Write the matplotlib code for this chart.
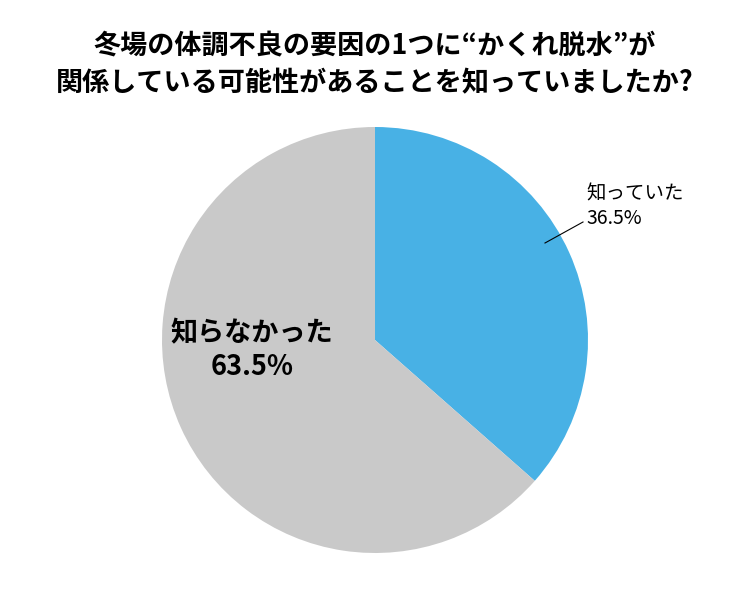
import matplotlib
matplotlib.use("Agg")
import matplotlib.pyplot as plt

plt.rcParams['font.family'] = ['Noto Sans CJK JP', 'DejaVu Sans']

labels = ["知っていた", "知らなかった"]
shares = [36.5, 63.5]
colors = ["#48B1E5", "#C9C9C9"]

W, H = 750, 600
fig = plt.figure(figsize=(7.5, 6), dpi=100)

def fx(px):
    return px / W

def fy(py):
    return 1 - py / H

fig.text(0.5, fy(45), "冬場の体調不良の要因の1つに“かくれ脱水”が",
         ha="center", va="center", fontsize=19.5, fontweight="bold")
fig.text(0.5, fy(83), "関係している可能性があることを知っていましたか?",
         ha="center", va="center", fontsize=19.5, fontweight="bold")

r = 213
cx, cy = 375, 340
ax = fig.add_axes([fx(cx - r), fy(cy + r), 2 * r / W, 2 * r / H])
ax.pie(shares, colors=colors, startangle=90, counterclock=False,
       wedgeprops=dict(linewidth=0))
ax.set_xlim(-1, 1)
ax.set_ylim(-1, 1)
ax.set_aspect("auto")

fig.text(fx(252), fy(350), f"{labels[1]}\n{shares[1]}%", ha="center", va="center",
         fontsize=19.5, fontweight="bold", linespacing=1.25)
fig.text(fx(586), fy(206), f"{labels[0]}\n{shares[0]}%", ha="left", va="center",
         fontsize=14, linespacing=1.25)
fig.add_artist(plt.Line2D([fx(545), fx(583)], [fy(243), fy(222)], color="black", lw=0.8))

fig.savefig("out.png", dpi=100)
